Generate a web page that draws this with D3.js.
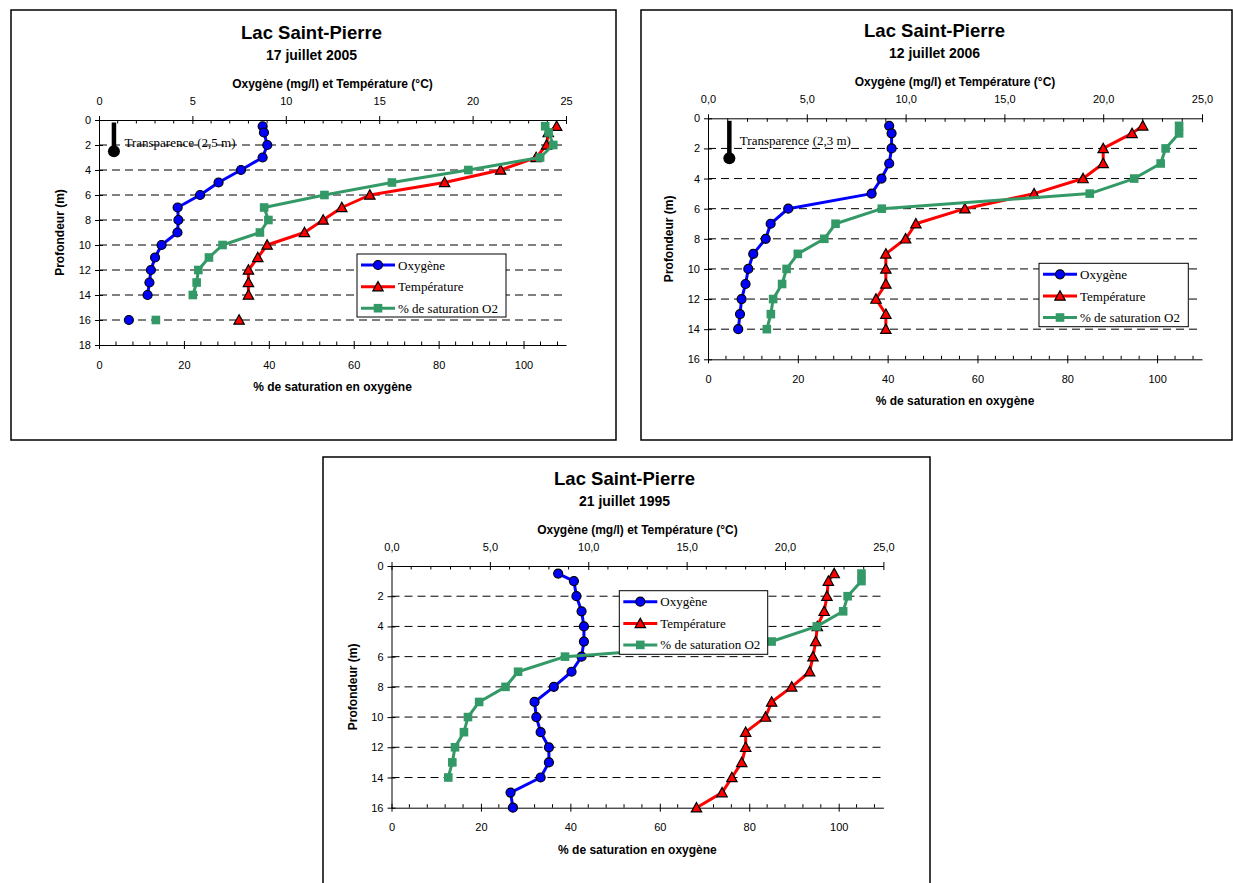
<!DOCTYPE html>
<html><head><meta charset="utf-8">
<script src="https://cdn.jsdelivr.net/npm/d3@7"></script>
<style>body{margin:0;background:#fff}svg{display:block}</style>
</head><body><svg id="c" width="1233" height="883"></svg>
<script>
// ---------------- DATA ----------------
const seriesNames = ["Oxygène", "Température", "% de saturation O2"];
const chartTitle = "Lac Saint-Pierre";
const subTitles = ["17 juillet 2005", "12 juillet 2006", "21 juillet 1995"];
const topAxisTitle = "Oxygène (mg/l) et Température (°C)";
const bottomAxisTitle = "% de saturation en oxygène";
const leftAxisTitle = "Profondeur (m)";

const topTickValues = [0, 5, 10, 15, 20, 25];
const topTickLabels2005 = ["0", "5", "10", "15", "20", "25"];
const topTickLabelsFr = ["0,0", "5,0", "10,0", "15,0", "20,0", "25,0"];
const satTickValues = [0, 20, 40, 60, 80, 100];
const satTickLabels = ["0", "20", "40", "60", "80", "100"];
const depthTicks2005 = [0, 2, 4, 6, 8, 10, 12, 14, 16, 18];
const depthTicks = [0, 2, 4, 6, 8, 10, 12, 14, 16];

// 17 juillet 2005
const depths2005 = [0.5, 1, 2, 3, 4, 5, 6, 7, 8, 9, 10, 11, 12, 13, 14, 15, 16];
const oxygen2005 = [8.76, 8.83, 9.01, 8.76, 7.6, 6.4, 5.41, 4.21, 4.25, 4.2, 3.35, 3.0, 2.78, 2.7, 2.6, null, 1.6];
const temp2005   = [24.5, 24.05, 23.96, 23.4, 21.5, 18.5, 14.5, 13.0, 12.0, 11.0, 9.0, 8.5, 8.0, 8.0, 8.0, null, 7.5];
const sat2005    = [105.1, 105.9, 107.0, 103.9, 87.0, 69.0, 53.1, 38.9, 39.9, 37.9, 29.1, 25.9, 23.4, 23.0, 22.1, null, 13.4];

// 12 juillet 2006
const depths2006 = [0.5, 1, 2, 3, 4, 5, 6, 7, 8, 9, 10, 11, 12, 13, 14];
const oxygen2006 = [9.17, 9.29, 9.29, 9.17, 8.78, 8.28, 4.06, 3.17, 2.92, 2.29, 2.04, 1.9, 1.7, 1.62, 1.53];
const temp2006   = [22.0, 21.46, 20.0, 20.0, 18.98, 16.5, 13.0, 10.52, 10.0, 9.0, 9.0, 9.0, 8.5, 9.0, 9.0];
const sat2006    = [104.9, 104.9, 101.9, 100.8, 94.9, 85.0, 38.7, 28.4, 25.9, 20.0, 17.5, 16.5, 14.5, 14.0, 13.1];

// 21 juillet 1995
const depths1995 = [0.5, 1, 2, 3, 4, 5, 6, 7, 8, 9, 10, 11, 12, 13, 14, 15, 16];
const oxygen1995 = [8.47, 9.27, 9.4, 9.66, 9.78, 9.78, 9.66, 9.15, 8.25, 7.27, 7.36, 7.58, 8.0, 8.0, 7.58, 6.05, 6.17];
const temp1995   = [22.5, 22.2, 22.13, 21.99, 21.64, 21.56, 21.42, 21.25, 20.34, 19.32, 19.01, 18.0, 18.0, 17.8, 17.3, 16.8, 15.5];
const sat1995    = [105.1, 105.1, 102.0, 101.0, 95.1, 85.0, 38.8, 28.3, 25.5, 19.6, 17.1, 16.2, 14.2, 13.6, 12.7, null, null];

// Secchi transparency markers (label, marker depth, position on top axis)
const transpLabels = ["Transparence (2,5 m)", "Transparence (2,3 m)"];
const transpDepths = [2.5, 2.65];
const transpPos = [0.8, 1.08];

// ---------------- DRAWING ----------------
const svg = d3.select("#c");
const SANS = "'Liberation Sans', Arial, sans-serif";
const SERIF = "'Liberation Serif', 'Times New Roman', serif";
const colors = ["#0000FF", "#FF0000", "#339966"];

function drawMarker(sel, k) {
  if (k === 0) {
    sel.append("circle").attr("r", 4.5).attr("fill", colors[0]).attr("stroke", "#000").attr("stroke-width", 1.2);
  } else if (k === 1) {
    sel.append("path").attr("d", "M0,-5.2L5.2,4.2L-5.2,4.2Z").attr("fill", colors[1]).attr("stroke", "#000").attr("stroke-width", 1.2).attr("stroke-linejoin", "miter");
  } else {
    sel.append("rect").attr("x", -4.3).attr("y", -4.3).attr("width", 8.6).attr("height", 8.6).attr("fill", colors[2]);
  }
}

function panel(cfg) {
  const g = svg.append("g");
  const [bx, by, bw, bh] = cfg.box;
  g.append("rect").attr("x", bx).attr("y", by).attr("width", bw).attr("height", bh)
    .attr("fill", "#fff").attr("stroke", "#000").attr("stroke-width", 1.5);

  const x = d3.scaleLinear().domain([0, 25]).range([cfg.left, cfg.right]);
  const xs = d3.scaleLinear().domain([0, 110]).range([cfg.left, cfg.right]);
  const y = d3.scaleLinear().domain([0, cfg.maxDepth]).range([cfg.top, cfg.bottom]);
  const tcx = bx + bw / 2 - 2;
  const pcx = (cfg.left + cfg.right) / 2;

  // titles
  g.append("text").attr("x", tcx).attr("y", cfg.top - 81.5).attr("text-anchor", "middle")
    .attr("font-family", SANS).attr("font-weight", "bold").attr("font-size", 18.5).text(chartTitle);
  g.append("text").attr("x", tcx).attr("y", cfg.top - 60).attr("text-anchor", "middle")
    .attr("font-family", SANS).attr("font-weight", "bold").attr("font-size", 14).text(cfg.subtitle);
  g.append("text").attr("x", pcx).attr("y", cfg.top - 32.5).attr("text-anchor", "middle")
    .attr("font-family", SANS).attr("font-weight", "bold").attr("font-size", 12).text(topAxisTitle);
  g.append("text").attr("x", pcx).attr("y", cfg.bottom + 46).attr("text-anchor", "middle")
    .attr("font-family", SANS).attr("font-weight", "bold").attr("font-size", 12).text(bottomAxisTitle);
  g.append("text").attr("transform", `translate(${cfg.left - 39},${(cfg.top + cfg.bottom) / 2}) rotate(-90)`)
    .attr("text-anchor", "middle").attr("dy", "0.35em")
    .attr("font-family", SANS).attr("font-weight", "bold").attr("font-size", 12).text(leftAxisTitle);

  // transparency marker
  if (cfg.transp != null) {
    const i = cfg.transp;
    const tx = x(transpPos[i]);
    g.append("line").attr("x1", tx).attr("x2", tx).attr("y1", cfg.top + 2.5).attr("y2", y(transpDepths[i]))
      .attr("stroke", "#000").attr("stroke-width", 4.5);
    g.append("circle").attr("cx", tx).attr("cy", y(transpDepths[i])).attr("r", 6).attr("fill", "#000");
    g.append("text").attr("x", tx + 10.5).attr("y", cfg.top + 26.5)
      .attr("font-family", SERIF).attr("font-size", 13).attr("fill", "#000").text(transpLabels[i]);
  }

  // gridlines
  g.append("g").selectAll("line")
    .data(cfg.depthTicks.filter(d => d > 0 && d < cfg.maxDepth)).join("line")
    .attr("x1", cfg.left).attr("x2", cfg.right).attr("y1", d => y(d)).attr("y2", d => y(d))
    .attr("stroke", "#000").attr("stroke-width", 1).attr("stroke-dasharray", "8,5");

  // top axis
  const topAx = g.append("g").attr("transform", `translate(0,${cfg.top})`)
    .call(d3.axisTop(x).tickValues(topTickValues).tickFormat((d, i) => cfg.topLabels[i]).tickSizeInner(4).tickSizeOuter(0));
  topAx.select(".domain").attr("stroke", "#000");
  topAx.selectAll(".tick line").attr("y2", -4).attr("y1", 4).attr("stroke", "#000");
  topAx.selectAll(".tick text").attr("y", -15).attr("dy", 0).attr("font-family", SANS).attr("font-size", 11).attr("fill", "#000");
  topAx.append("g").selectAll("line")
    .data(d3.range(0, 25.001, 1).filter(v => v % 5 !== 0)).join("line")
    .attr("x1", d => x(d)).attr("x2", d => x(d)).attr("y1", 0).attr("y2", 3.5).attr("stroke", "#000");

  // bottom axis
  const botAx = g.append("g").attr("transform", `translate(0,${cfg.bottom})`)
    .call(d3.axisBottom(xs).tickValues(satTickValues).tickFormat((d, i) => satTickLabels[i]).tickSizeInner(4).tickSizeOuter(0));
  botAx.select(".domain").attr("stroke", "#000");
  botAx.selectAll(".tick line").attr("y1", -4).attr("y2", 4).attr("stroke", "#000");
  botAx.selectAll(".tick text").attr("y", 23.5).attr("dy", 0).attr("font-family", SANS).attr("font-size", 11).attr("fill", "#000");
  botAx.append("g").selectAll("line")
    .data(d3.range(0, 110.001, 4).filter(v => v % 20 !== 0)).join("line")
    .attr("x1", d => xs(d)).attr("x2", d => xs(d)).attr("y1", 0).attr("y2", -3.5).attr("stroke", "#000");

  // left axis
  const leftAx = g.append("g").attr("transform", `translate(${cfg.left},0)`)
    .call(d3.axisLeft(y).tickValues(cfg.depthTicks).tickFormat(d3.format("d")).tickSizeInner(4).tickSizeOuter(0));
  leftAx.select(".domain").attr("stroke", "#000");
  leftAx.selectAll(".tick line").attr("x1", 4).attr("x2", -4).attr("stroke", "#000");
  leftAx.selectAll(".tick text").attr("x", -8).attr("font-family", SANS).attr("font-size", 11).attr("fill", "#000");

  // series
  const series = [
    { vals: cfg.oxygen, sx: x },
    { vals: cfg.temp, sx: x },
    { vals: cfg.sat, sx: xs }
  ];
  series.forEach((s, k) => {
    const pts = cfg.depths.map((d, i) => ({ d, v: s.vals[i] }));
    const line = d3.line().defined(p => p.v != null).x(p => s.sx(p.v)).y(p => y(p.d));
    g.append("path").datum(pts).attr("d", line).attr("fill", "none")
      .attr("stroke", colors[k]).attr("stroke-width", 3).attr("stroke-linejoin", "round");
    const mk = g.append("g").selectAll("g").data(pts.filter(p => p.v != null)).join("g")
      .attr("transform", p => `translate(${s.sx(p.v)},${y(p.d)})`);
    mk.each(function () { drawMarker(d3.select(this), k); });
  });

  // legend
  const [lx, ly, lw, lh] = cfg.legend;
  const lg = g.append("g");
  lg.append("rect").attr("x", lx).attr("y", ly).attr("width", lw).attr("height", lh)
    .attr("fill", "#fff").attr("stroke", "#000").attr("stroke-width", 1);
  const rows = [11, 32.7, 54.2];
  seriesNames.forEach((name, k) => {
    const yy = ly + rows[k];
    lg.append("line").attr("x1", lx + 4).attr("x2", lx + 38).attr("y1", yy).attr("y2", yy)
      .attr("stroke", colors[k]).attr("stroke-width", 3);
    drawMarker(lg.append("g").attr("transform", `translate(${lx + 21},${yy})`), k);
    lg.append("text").attr("x", lx + 41).attr("y", yy).attr("dy", "0.35em")
      .attr("font-family", SERIF).attr("font-size", 13).attr("fill", "#000").text(name);
  });
}

panel({
  box: [11, 10, 605, 430], left: 99, right: 566, top: 120, bottom: 345, maxDepth: 18,
  depthTicks: depthTicks2005, topLabels: topTickLabels2005, subtitle: subTitles[0],
  depths: depths2005, oxygen: oxygen2005, temp: temp2005, sat: sat2005,
  legend: [357, 254, 149, 63], transp: 0
});
panel({
  box: [641, 10, 591, 430], left: 708, right: 1202, top: 118.3, bottom: 359.3, maxDepth: 16,
  depthTicks: depthTicks, topLabels: topTickLabelsFr, subtitle: subTitles[1],
  depths: depths2006, oxygen: oxygen2006, temp: temp2006, sat: sat2006,
  legend: [1039, 263.3, 149.3, 63.4], transp: 1
});
panel({
  box: [323, 457, 607, 440], left: 391.5, right: 883.4, top: 566, bottom: 807.7, maxDepth: 16,
  depthTicks: depthTicks, topLabels: topTickLabelsFr, subtitle: subTitles[2],
  depths: depths1995, oxygen: oxygen1995, temp: temp1995, sat: sat1995,
  legend: [619.3, 590.7, 148.4, 63.6], transp: null
});
</script>
</body></html>
